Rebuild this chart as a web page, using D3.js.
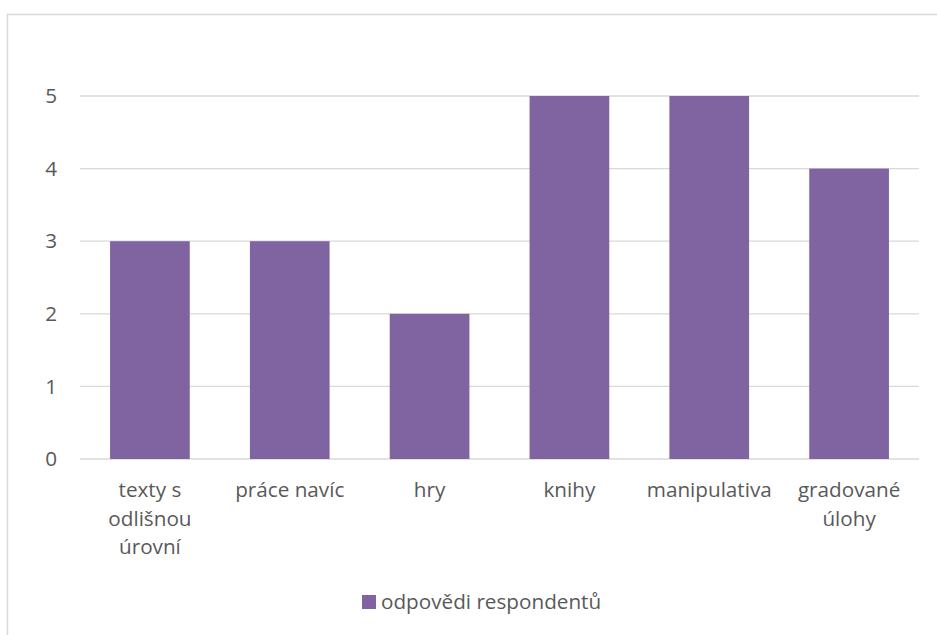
<!DOCTYPE html>
<html>
  <head>
    <meta charset="utf-8">
    <style>
      body { margin: 0; padding: 0; background: #fff; overflow: hidden; }
      svg { display: block; }
      text { font-family: "Open Sans", "DejaVu Sans", sans-serif; fill: #595959; }
    </style>
    <script src="https://cdn.jsdelivr.net/npm/d3@7/dist/d3.min.js"></script>
  </head>
  <body>
    <svg width="937" height="635"></svg>
    <script>
      // Data
      const categories = ['texty s odlišnou úrovní', 'práce navíc', 'hry', 'knihy', 'manipulativa', 'gradované úlohy'];
      const categoryLines = [['texty s', 'odlišnou', 'úrovní'], ['práce navíc'], ['hry'], ['knihy'], ['manipulativa'], ['gradované', 'úlohy']];
      const values = [3, 3, 2, 5, 5, 4];
      const yTicks = [0, 1, 2, 3, 4, 5];
      const seriesName = 'odpovědi respondentů';

      const svg = d3.select('svg');
      const barColor = '#8064A2';
      const gridColor = '#d9d9d9';
      const fontSize = '20.7px';

      // Chart border (continues past the picture on right and bottom)
      svg.append('rect')
        .attr('x', 7.5).attr('y', 14.5)
        .attr('width', 960).attr('height', 660)
        .attr('fill', 'none')
        .attr('stroke', gridColor)
        .attr('stroke-width', 1.5);

      const plot = { left: 80, right: 919, top: 96, bottom: 459 };

      const x = d3.scaleBand()
        .domain(categories)
        .range([plot.left, plot.right])
        .paddingInner(0.43)
        .paddingOuter(0.215);

      const y = d3.scaleLinear()
        .domain([0, 5])
        .range([plot.bottom, plot.top]);

      // Gridlines
      svg.append('g')
        .selectAll('line')
        .data(yTicks)
        .enter()
        .append('line')
        .attr('x1', plot.left).attr('x2', plot.right)
        .attr('y1', d => y(d)).attr('y2', d => y(d))
        .attr('stroke', gridColor)
        .attr('stroke-width', 1.3);

      // Y tick labels
      svg.append('g')
        .selectAll('text')
        .data(yTicks)
        .enter()
        .append('text')
        .attr('x', 57)
        .attr('y', d => y(d))
        .attr('dy', '0.35em')
        .attr('text-anchor', 'end')
        .style('font-size', fontSize)
        .text(d => d);

      // Bars
      svg.append('g')
        .selectAll('rect')
        .data(values)
        .enter()
        .append('rect')
        .attr('x', (d, i) => x(categories[i]))
        .attr('width', x.bandwidth())
        .attr('y', d => y(d))
        .attr('height', d => y(0) - y(d))
        .attr('fill', barColor);

      // X labels
      const xl = svg.append('g')
        .selectAll('text')
        .data(categories)
        .enter()
        .append('text')
        .attr('text-anchor', 'middle')
        .style('font-size', fontSize)
        .attr('transform', d => `translate(${x(d) + x.bandwidth() / 2}, 497)`);
      xl.selectAll('tspan')
        .data((d, i) => categoryLines[i])
        .enter()
        .append('tspan')
        .attr('x', 0)
        .attr('y', (d, i) => i * 28.5)
        .text(d => d);

      // Legend
      const legend = svg.append('g').attr('transform', 'translate(362, 595)');
      legend.append('rect')
        .attr('width', 14).attr('height', 14)
        .attr('fill', barColor);
      legend.append('text')
        .attr('x', 19).attr('y', 7)
        .attr('dy', '0.35em')
        .style('font-size', fontSize)
        .text(seriesName);
    </script>
  </body>
</html>
